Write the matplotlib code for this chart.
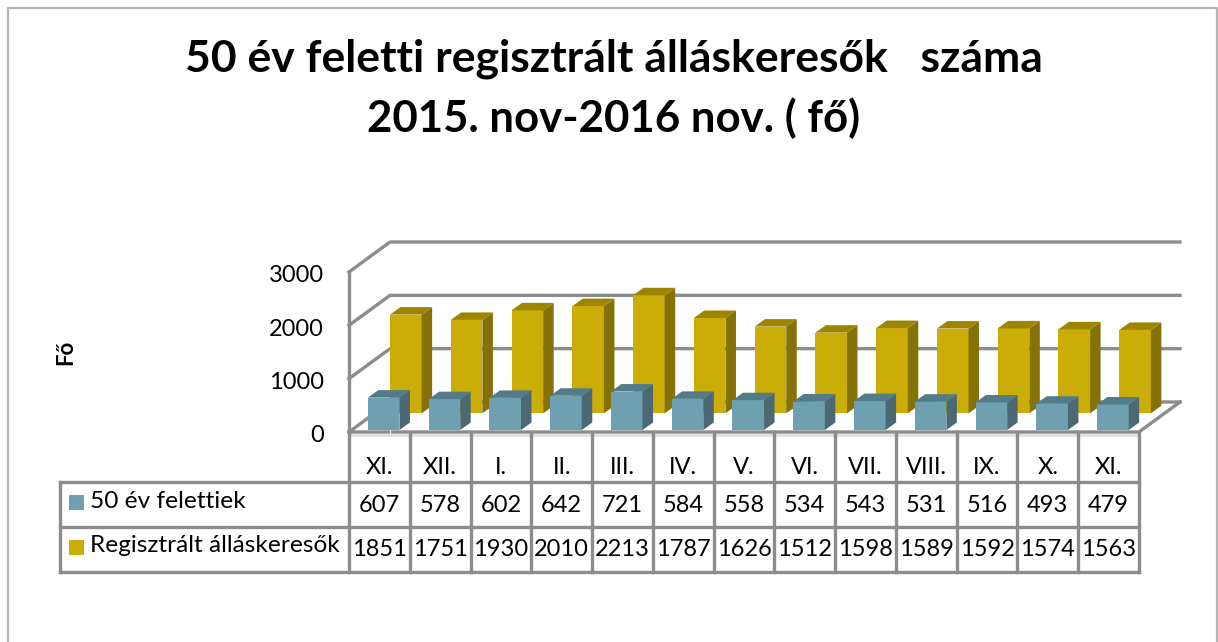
import matplotlib
matplotlib.use('Agg')
from matplotlib import pyplot as plt
from matplotlib.patches import Polygon
import numpy as np

months = ['XI.', 'XII.', 'I.', 'II.', 'III.', 'IV.', 'V.', 'VI.', 'VII.', 'VIII.', 'IX.', 'X.', 'XI.']
over_50 = [607, 578, 602, 642, 721, 584, 558, 534, 543, 531, 516, 493, 479]
registered = [1851, 1751, 1930, 2010, 2213, 1787, 1626, 1512, 1598, 1589, 1592, 1574, 1563]
y_ticks = [0, 1000, 2000, 3000]
names = ['50 év felettiek', 'Regisztrált álláskeresők']

W, H = 1218, 642
LEFT, RIGHT, ZERO, TOP = 349, 1139, 432, 272
GREY = '#8c8c8c'
plt.rcParams['font.family'] = ['Lato', 'DejaVu Sans']

fig = plt.figure(figsize=(W / 100, H / 100), dpi=100)

# overlay in pixels, for the frame, walls and table lines
bg = fig.add_axes([0, 0, 1, 1])
bg.set_xlim(0, W)
bg.set_ylim(H, 0)
bg.axis('off')

# data axes sits on the front plane of the fake 3d box
ax = fig.add_axes([LEFT / W, 1 - ZERO / H, (RIGHT - LEFT) / W, (ZERO - TOP) / H])
ax.set_xlim(0, len(months))
ax.set_ylim(0, 3000)
ax.axis('off')
ax.patch.set_alpha(0)
px_x = (RIGHT - LEFT) / len(months)
px_y = (ZERO - TOP) / 3000


def line(xs, ys, color=GREY, lw=2.4):
    bg.plot(xs, ys, color=color, lw=lw, solid_capstyle='projecting', zorder=2)


# outer frame
line([8, 8, 1217, 1217], [H + 5, 8, 8, H + 5], color='#b4b4b4', lw=1.6)

# walls
for v in y_ticks:
    y = ZERO - v * px_y
    line([LEFT, LEFT + 41, 1180], [y, y - 30, y - 30])
line([LEFT, LEFT], [ZERO, TOP])
line([LEFT, RIGHT, 1180], [ZERO, ZERO, ZERO - 30])


def bars3d(values, start, base_px, front, side, top, z):
    width = 0.52
    xs = np.arange(len(values)) + start
    base = base_px / px_y
    ax.bar(xs, values, width=width, bottom=base, align='edge', color=front, zorder=z, clip_on=False)
    dx = 10.5 / px_x
    dy = 7.5 / px_y
    for x, v in zip(xs, values):
        t = base + v
        r = x + width
        ax.add_patch(Polygon([(r, base), (r + dx, base + dy), (r + dx, t + dy), (r, t)],
                             color=side, lw=0, zorder=z, clip_on=False))
        ax.add_patch(Polygon([(x, t), (x + dx, t + dy), (r + dx, t + dy), (r, t)],
                             color=top, lw=0, zorder=z, clip_on=False))


bars3d(registered, 0.675, 18.7, '#cbad08', '#857204', '#9e8500', 3)
bars3d(over_50, 0.31, 2, '#6fa0b2', '#4b6875', '#547b8a', 4)

# thin seam that runs through the first blue bar
bg.plot([390, 390], [390, 436], color='#e8eef0', lw=0.8, zorder=5)

# y tick labels
for v in y_ticks:
    ax.text(-25 / px_x, v - (4 if v == 0 else 4) / px_y, str(v), ha='right', va='center', fontsize=17)

# table
rows = [482, 527, 572]
bg.plot([LEFT, RIGHT], [435, 435], color='#e0e0e0', lw=2, zorder=1)
for k in range(len(months) + 1):
    x = LEFT + k * px_x
    line([x, x], [ZERO, rows[-1]])
for y in rows:
    line([60, RIGHT], [y, y])
line([60, 60], [rows[0], rows[-1]])

for k, m in enumerate(months):
    ax.text(k + 0.5, (ZERO - 468) / px_y, m, ha='center', va='center', fontsize=17)
    ax.text(k + 0.5, (ZERO - 506) / px_y, str(over_50[k]), ha='center', va='center', fontsize=17)
    ax.text(k + 0.5, (ZERO - 550) / px_y, str(registered[k]), ha='center', va='center', fontsize=17)

for name, y, c in zip(names, [501, 546], ['#6fa0b2', '#cbad08']):
    bg.add_patch(Polygon([(69, y - 6), (84, y - 6), (84, y + 9), (69, y + 9)], color=c, lw=0, zorder=3))
    bg.text(90, y, name, ha='left', va='center', fontsize=17.6)

# titles
bg.text(614, 59, '50 év feletti regisztrált álláskeresők   száma', ha='center', va='center',
        fontsize=32, fontweight='bold')
bg.text(614, 118, '2015. nov-2016 nov. ( fő)', ha='center', va='center', fontsize=31.5, fontweight='bold')
bg.text(66, 352, 'Fő', rotation=90, ha='center', va='center', fontsize=16, fontweight='bold')

fig.savefig('out.png', dpi=100)
